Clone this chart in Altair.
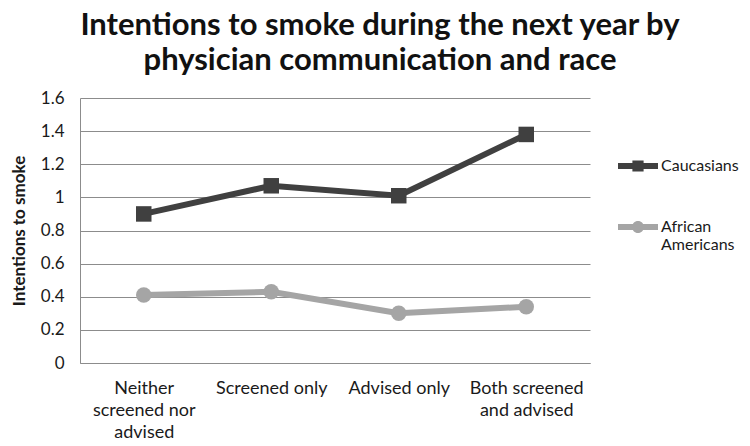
import altair as alt
import pandas as pd

# ---- data ----
categories = ["Neither screened nor advised", "Screened only", "Advised only", "Both screened and advised"]
category_lines = [["Neither", "screened nor", "advised"], ["Screened only"], ["Advised only"], ["Both screened", "and advised"]]
series_names = ["Caucasians", "African Americans"]
series_label_lines = [["Caucasians"], ["African", "Americans"]]
series_markers = ["square", "circle"]
series_colors = ["#404040", "#a5a5a5"]
caucasians = [0.90, 1.07, 1.01, 1.38]
african_americans = [0.41, 0.43, 0.30, 0.34]
y_ticks = [0, 0.2, 0.4, 0.6, 0.8, 1.0, 1.2, 1.4, 1.6]
title_lines = ["Intentions to smoke during the next year by", "physician communication and race"]
y_title = "Intentions to smoke"

FONT = "Lato"

rows = []
for s, m, vals in zip(series_names, series_markers, [caucasians, african_americans]):
    for c, v in zip(categories, vals):
        rows.append({"category": c, "series": s, "marker": m, "value": v})
df = pd.DataFrame(rows)


def lines_expr(field, keys, lines):
    expr = field
    for k, ls in zip(keys, lines):
        arr = "[" + ",".join("'" + l + "'" for l in ls) + "]"
        expr = f"{field} == '{k}' ? {arr} : ({expr})"
    return expr


x_label_expr = lines_expr("datum.value", categories, category_lines)
legend_label_expr = lines_expr("datum.label", series_names, series_label_lines)

# legend symbols: line segment + marker (custom paths, unit box [-1, 1])
legend_paths = [
    "M-1,-0.15H1V0.15H-1Z M-0.28,-0.28H0.28V0.28H-0.28Z",
    "M-1,-0.15H1V0.15H-1Z M-0.3,0A0.3,0.3 0 1,1 0.3,0A0.3,0.3 0 1,1 -0.3,0Z",
]

x_enc = alt.X(
    "category:N",
    sort=categories,
    scale=alt.Scale(type="point", padding=0.5),
    axis=alt.Axis(
        title=None, labelAngle=0, ticks=False, labelExpr=x_label_expr,
        labelFont=FONT, labelFontSize=18, labelColor="#1a1a1a", labelLineHeight=22,
        labelPadding=16, domainColor="#8c8c8c", labelLimit=200,
    ),
)
y_enc = alt.Y(
    "value:Q",
    scale=alt.Scale(domain=[0, 1.6], nice=False),
    axis=alt.Axis(
        values=y_ticks, format=".1~f", ticks=False, grid=True, gridColor="#8c8c8c",
        domainColor="#8c8c8c", labelFont=FONT, labelFontSize=17, labelColor="#1a1a1a",
        labelPadding=16, title=y_title, titleFont=FONT, titleFontSize=17,
        titleFontWeight="bold", titleColor="#1a1a1a", titlePadding=12,
    ),
)
color_scale = alt.Scale(domain=series_names, range=series_colors)


def make_legend():
    return alt.Legend(
        title=None, orient="none", legendX=538, legendY=48,
        symbolSize=1600, symbolStrokeWidth=0, labelFont=FONT, labelFontSize=16,
        labelColor="#1a1a1a", labelOffset=3, rowPadding=33, labelExpr=legend_label_expr,
        labelLimit=200,
    )


color_enc = alt.Color("series:N", scale=color_scale, legend=make_legend())

base = alt.Chart(df)

lines = base.mark_line(strokeWidth=6).encode(
    x=x_enc, y=y_enc, color=color_enc, detail="series:N",
)

point_layers = [
    base.transform_filter(alt.datum.series == s)
    .mark_point(shape=m, filled=True, opacity=1, size=240, strokeWidth=0)
    .encode(x=x_enc, y=y_enc, color=color_enc)
    for s, m in zip(series_names, series_markers)
]

legend_layer = base.transform_filter("false").mark_point(
    filled=True, opacity=1, size=1600, strokeWidth=0
).encode(
    x=x_enc, y=y_enc, color=color_enc,
    shape=alt.Shape(
        "series:N",
        scale=alt.Scale(domain=series_names, range=legend_paths),
        legend=make_legend(),
    ),
)

chart = (
    alt.layer(lines, *point_layers, legend_layer)
    .properties(
        width=510,
        height=265,
        autosize=alt.AutoSizeParams(type="none"),
        padding={"left": 72, "top": 90, "right": 152, "bottom": 82},
        title=alt.TitleParams(
            text=title_lines, font=FONT, fontSize=31, fontWeight="bold", color="#111111",
            anchor="middle", dx=45, lineHeight=35, offset=12,
        ),
    )
    .configure_view(stroke=None)
)

chart.save("out.html", embed_options={"renderer": "svg", "actions": False})
